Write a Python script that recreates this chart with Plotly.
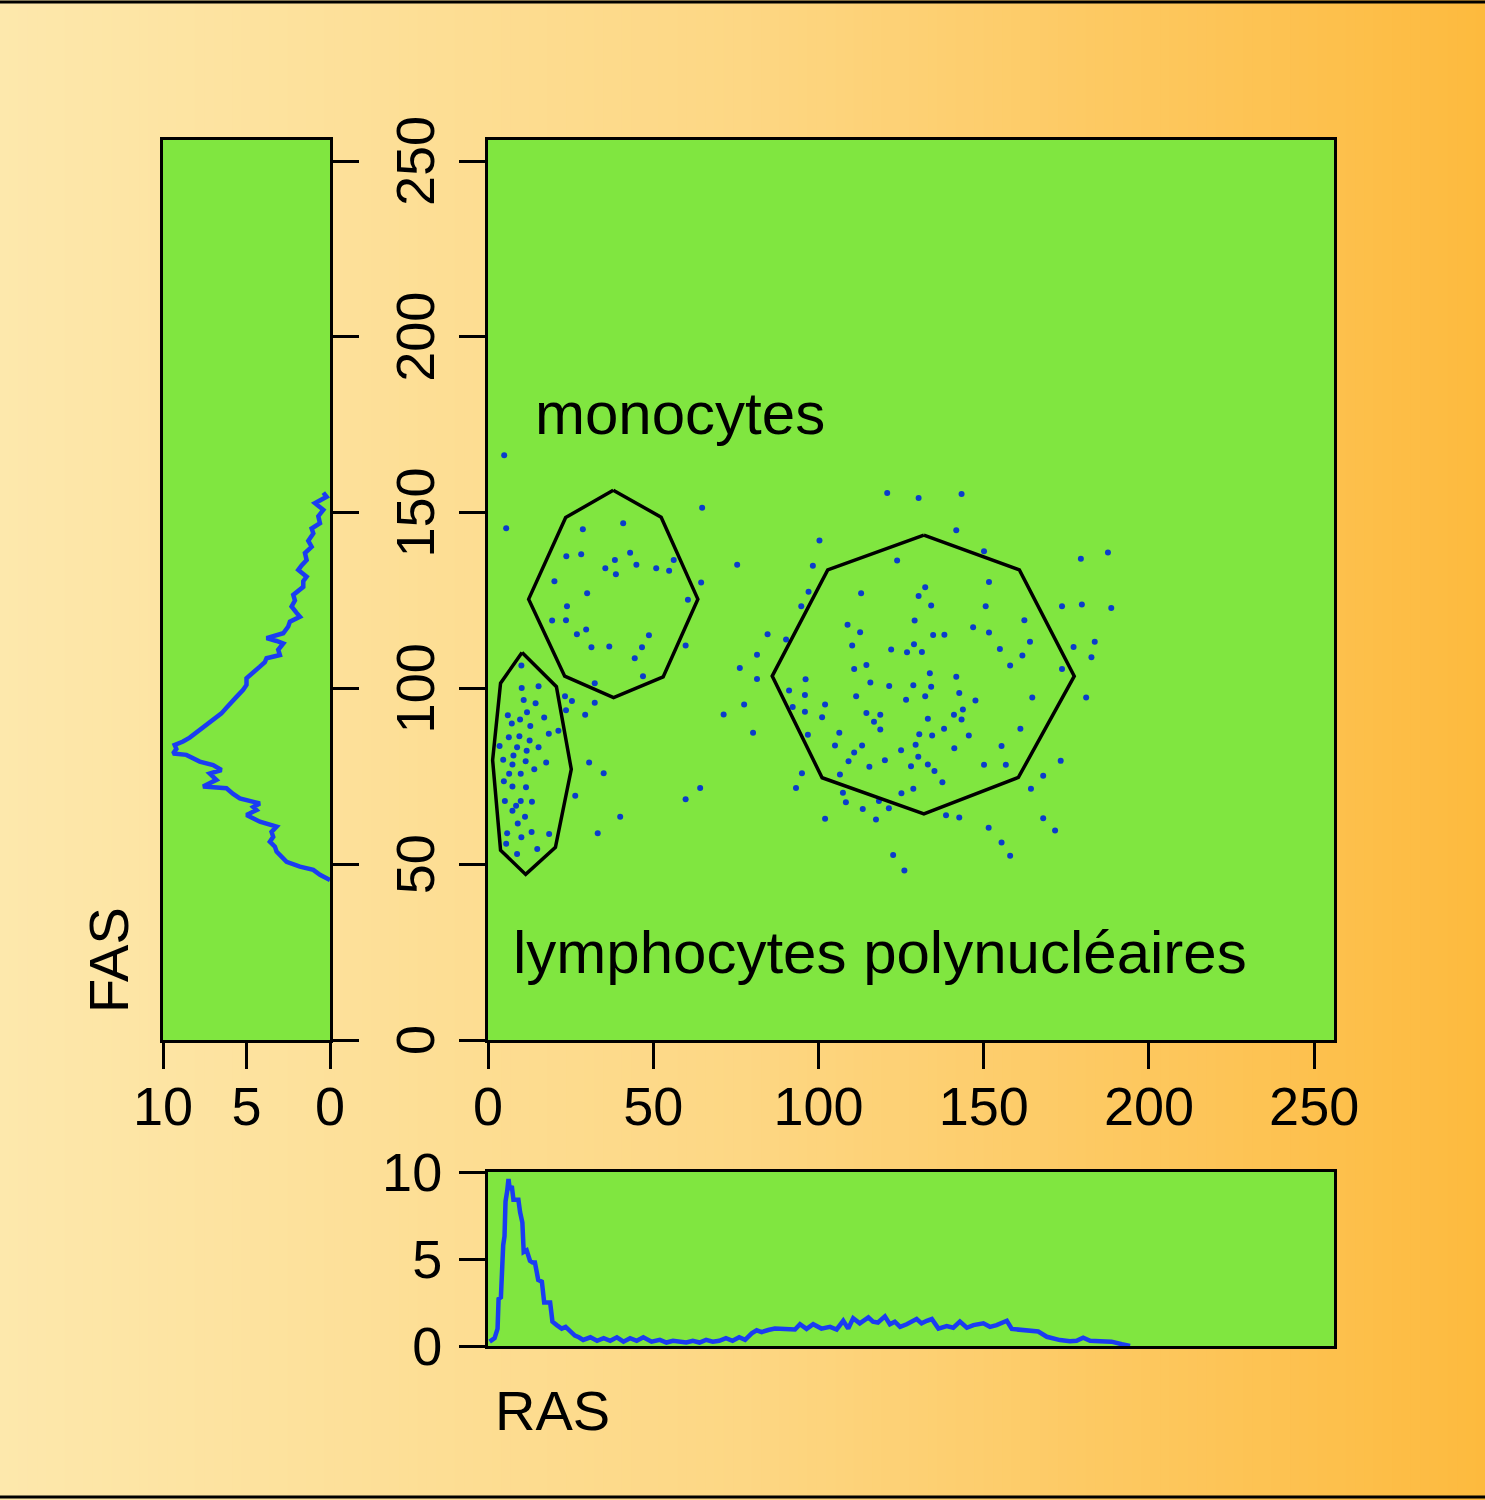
import plotly.graph_objects as go

W, H = 1485, 1500

# ---------------- data ----------------
tick_main = [0, 50, 100, 150, 200, 250]
tick_hist = [0, 5, 10]

scatter_ras = [4.9, 64.8, 5.5, 28.7, 40.9, 23.7, 28.2, 43.0, 38.4, 56.2, 35.5, 44.9, 50.9, 54.8, 38.7, 20.1, 64.5, 30.0, 60.5, 23.9,
               19.4, 23.6, 29.7, 26.9, 48.7, 31.3, 36.7, 46.6, 59.8, 44.4, 46.9, 32.3, 10.1, 10.2, 15.3, 10.8, 14.4, 23.3, 25.4, 32.3,
               23.6, 29.4, 6.0, 11.8, 17.0, 7.2, 9.7, 12.8, 21.3, 18.4, 6.3, 9.5, 12.6, 3.5, 8.8, 15.3, 11.7, 7.7, 4.6, 11.4,
               7.4, 17.6, 30.6, 14.0, 6.4, 9.9, 35.0, 4.8, 7.4, 11.5, 64.2, 26.4, 59.8, 5.1, 9.9, 13.3, 8.5, 7.4, 11.2, 40.0,
               9.0, 5.8, 13.2, 18.5, 33.2, 10.1, 5.5, 14.9, 8.8,
               120.8, 130.3, 100.3, 75.4, 98.3, 123.8, 97.0, 112.9, 130.3, 94.8, 108.8, 129.1, 112.6, 84.6, 90.2, 110.2, 128.9, 122.0,
               126.8, 81.4, 76.2, 110.8, 114.5, 81.4, 96.1, 115.7, 121.4, 128.7, 91.1, 95.9, 111.4, 126.5, 77.5, 102.0, 71.3, 92.2,
               95.9, 101.1, 114.5, 118.7, 116.8, 118.7, 80.2, 106.3, 96.8, 130.5, 105.0, 113.2, 129.4, 110.8, 125.0, 130.2, 109.1,
               120.1, 115.4, 128.0, 95.0, 106.5, 93.2, 128.7, 107.4, 125.1, 108.3, 118.3, 113.4, 121.3, 102.0, 117.4, 122.6, 126.0,
               143.3, 141.7, 150.1, 179.4, 187.6, 132.3, 151.6, 134.1, 150.6, 173.7, 179.7, 188.6, 162.3, 146.8, 134.7, 138.1, 151.6,
               164.0, 183.6, 131.3, 154.9, 161.7, 177.2, 182.6, 158.0, 173.7, 133.7, 141.7, 134.1, 132.3, 142.6, 147.5, 164.7, 181.0,
               143.7, 141.0, 143.3, 133.1, 138.0, 161.1, 134.4, 145.5, 141.1, 155.4, 133.1, 150.1, 156.7, 135.1, 173.3, 137.5, 168.0,
               164.3, 138.6, 142.6, 168.0, 171.6, 151.5, 155.4, 158.0]
scatter_fas = [166.3, 151.4, 145.6, 145.3, 147.0, 137.6, 138.2, 138.6, 136.5, 136.5, 134.2, 135.2, 134.2, 133.5, 132.5, 130.5, 130.1, 127.1, 125.2, 123.4,
               119.3, 119.4, 116.8, 115.4, 115.1, 111.7, 111.9, 111.7, 112.2, 108.6, 103.5, 101.5, 106.5, 100.1, 100.6, 96.7, 95.8, 97.8, 96.4, 95.9,
               93.8, 92.5, 92.4, 93.2, 91.7, 90.0, 91.2, 89.3, 88.0, 87.1, 86.1, 86.4, 85.2, 83.6, 83.3, 83.3, 82.3, 80.9, 79.7, 79.3,
               78.4, 78.9, 78.9, 77.0, 75.7, 75.7, 75.9, 73.6, 72.1, 71.9, 71.7, 69.5, 68.5, 68.0, 68.0, 67.8, 66.6, 65.2, 63.5, 63.5,
               61.6, 58.8, 59.2, 58.6, 58.8, 57.7, 55.8, 54.3, 52.9,
               155.6, 154.2, 142.1, 135.2, 134.9, 136.4, 127.5, 127.1, 126.3, 123.4, 118.1, 119.3, 116.0, 115.4, 113.9, 112.2, 112.6, 111.1,
               110.3, 109.6, 105.8, 105.5, 106.7, 102.7, 102.6, 101.7, 100.7, 100.9, 99.4, 98.1, 97.8, 96.8, 95.4, 95.4, 92.6, 94.7,
               93.4, 91.8, 93.0, 92.5, 90.5, 88.3, 87.4, 87.4, 86.8, 87.0, 83.8, 83.8, 84.0, 81.8, 82.4, 80.6, 79.3,
               79.6, 77.7, 77.9, 75.9, 75.5, 71.7, 71.5, 70.3, 70.2, 67.6, 68.0, 65.7, 65.9, 62.9, 62.7, 52.6, 48.2,
               155.3, 145.0, 139.0, 136.9, 138.7, 128.8, 130.3, 123.6, 123.4, 123.4, 123.9, 122.9, 119.4, 117.4, 115.2, 115.3, 115.9,
               113.3, 113.3, 110.4, 111.2, 109.4, 111.8, 108.9, 106.5, 105.5, 104.3, 103.3, 100.5, 97.8, 98.7, 96.6, 97.4, 97.4,
               94.0, 92.5, 91.2, 91.4, 88.5, 88.5, 86.6, 86.6, 83.0, 83.6, 78.4, 78.3, 78.3, 76.5, 79.4, 73.3, 75.2,
               71.5, 63.9, 63.3, 63.1, 59.6, 60.4, 56.2, 52.4]

# gates (polygons)
lympho_ras = [10.3, 20.7, 25.2, 20.4, 11.4, 3.8, 1.4, 3.8]
lympho_fas = [110.2, 100.5, 77.0, 54.8, 47.1, 54.0, 79.6, 101.5]
mono_ras = [37.9, 52.4, 63.5, 53.0, 38.0, 23.2, 12.3, 23.5]
mono_fas = [156.4, 148.7, 125.4, 103.3, 97.4, 103.5, 125.4, 148.6]
poly_ras = [131.9, 160.8, 177.4, 160.5, 131.9, 101.1, 86.0, 102.8]
poly_fas = [143.6, 133.7, 103.5, 74.7, 64.3, 74.6, 103.5, 133.7]

# FAS histogram (left panel)
fas_bins = [155.7, 154.5, 152.7, 150.8, 149, 147, 145.5, 144.1, 142, 140.3,
            138.5, 136.5, 135, 133.7, 131.8, 130.5, 128.9, 127.5, 126.6, 125,
            123.3, 121.5, 120.4, 119, 117.6, 115.7, 114.3, 113.5, 112.8, 111,
            109.5, 108.6, 107.5, 106.2, 104.5, 102.9, 101, 99.6, 97.6, 95.8,
            94.5, 92.9, 91.0, 89.1, 87.2, 86, 84.9, 83.9, 82.8, 81.5,
            81.1, 80, 79.2, 78.2, 76.8, 75.8, 74.9, 74.0, 72.1, 71.6,
            70, 68.7, 67.3, 66.3, 65.4, 64.0, 62.1, 60.7, 59.2, 57.8,
            56.4, 55, 53.6, 52, 50.7, 49.3, 48.4, 47, 45.5]
fas_counts = [0.4, 0.2, 0.9, 0.4, 0.7, 0.6, 1.1, 1.0, 1.3, 1.1,
              1.5, 1.4, 1.7, 1.9, 1.4, 1.6, 1.6, 2.0, 2.2, 2.1,
              2.3, 2.0, 1.8, 2.4, 2.5, 2.8, 3.8, 3.2, 2.8, 3.1,
              3.0, 3.8, 3.9, 4.2, 4.6, 5.0, 5.0, 5.2, 5.6, 6.0,
              6.2, 6.5, 7.0, 7.6, 8.0, 8.4, 8.8, 9.3, 9.2, 9.4,
              8.6, 8.2, 7.8, 7.0, 6.5, 7.2, 7.0, 6.8, 7.6, 6.2,
              5.8, 5.4, 4.2, 4.6, 4.4, 5.0, 4.2, 3.2, 3.5, 3.4,
              3.6, 3.3, 3.2, 2.9, 2.6, 1.8, 1.0, 0.6, 0.0]

# RAS histogram (bottom panel)
ras_bins = [0.5, 2.0, 2.9, 3.2, 3.9, 4.2, 4.6, 5.0, 5.3, 5.8,
            6.2, 6.6, 7.2, 7.7, 8.5, 9.2, 9.7, 10.4, 10.8, 11.7,
            12.7, 13.5, 14.2, 15.2, 16.3, 17.0, 18.8, 19.5, 20.8, 22.3,
            23.5, 25.3, 26.3, 27.5, 28.8,
            31, 33, 35, 37, 39, 41, 43, 45, 47, 49.5, 52, 54, 56, 58, 60, 62, 64, 66, 68, 70, 72, 74, 76, 77.8,
            79.8, 81.3, 82.8, 84.8, 86.8, 89.9, 92.9, 94.4, 96.4, 98.4,
            100.9, 103.5, 105.5, 107.5, 109, 110.5, 112.5, 115.1, 116.5, 118,
            120.1, 121.6, 123.1, 124.7, 126.7, 129.7, 131.2, 132.8, 134.3, 136.3,
            138.8, 140.8, 142.8, 144.9, 146.9, 149.9, 151.9, 153.9, 157, 158.5,
            161, 164, 166.5, 169.1, 171.1, 173.1, 176.1, 178.1, 180.1, 182.2,
            185.2, 188.7, 191.8, 194.3]
ras_counts = [0.25, 0.45, 1.0, 2.7, 2.8, 4.7, 5.8, 6.3, 8.3, 8.9,
              9.6, 9.0, 9.2, 8.4, 8.4, 8.4, 7.7, 7.1, 5.4, 5.5,
              4.9, 4.8, 4.8, 3.8, 3.7, 2.5, 2.5, 1.4, 1.2, 1.0,
              1.1, 0.8, 0.6, 0.5, 0.35,
              0.5, 0.3, 0.45, 0.3, 0.5, 0.25, 0.45, 0.3, 0.5, 0.25, 0.35, 0.2, 0.3, 0.25, 0.2, 0.3, 0.2, 0.35, 0.25, 0.3, 0.45, 0.3, 0.5, 0.35,
              0.73, 0.9, 0.8, 0.92, 1.0, 0.98, 0.95, 1.25, 0.98, 1.25,
              1.0, 1.1, 0.95, 1.45, 1.0, 1.6, 1.3, 1.65, 1.4, 1.35,
              1.7, 1.25, 1.4, 1.1, 1.25, 1.55, 1.3, 1.45, 1.55, 1.0,
              1.15, 1.05, 1.4, 1.05, 1.2, 1.3, 1.1, 1.2, 1.45, 0.98,
              0.92, 0.83, 0.83, 0.53, 0.44, 0.34, 0.28, 0.3, 0.48, 0.3,
              0.28, 0.25, 0.1, 0.0]

# ---------------- styling ----------------
FONT = "Liberation Sans, Arial, Helvetica, sans-serif"
GREEN = "#80E640"
LINE_BLUE = "#1a3cf2"
DOT_BLUE = "#0a3ccc"
TICK_SIZE = 54


def px_x(p):
    return p / W


def px_y(p):
    return 1 - p / H


main_xd = [px_x(488), px_x(1334)]
main_yd = [px_y(1040), px_y(140)]
left_xd = [px_x(163), px_x(330)]
bot_yd = [px_y(1346), px_y(1172)]

fig = go.Figure()

# scatter
fig.add_trace(go.Scatter(x=scatter_ras, y=scatter_fas, mode="markers",
                         marker=dict(size=6, color=DOT_BLUE), xaxis="x", yaxis="y", showlegend=False))
for gx, gy in [(lympho_ras, lympho_fas), (mono_ras, mono_fas), (poly_ras, poly_fas)]:
    fig.add_trace(go.Scatter(x=gx + gx[:1], y=gy + gy[:1], mode="lines",
                             line=dict(color="black", width=3.5), xaxis="x", yaxis="y", showlegend=False))

# left histogram
fig.add_trace(go.Scatter(x=fas_counts, y=fas_bins, mode="lines",
                         line=dict(color=LINE_BLUE, width=4.5), xaxis="x2", yaxis="y2", showlegend=False))
# bottom histogram
fig.add_trace(go.Scatter(x=ras_bins, y=ras_counts, mode="lines",
                         line=dict(color=LINE_BLUE, width=4.5), xaxis="x3", yaxis="y3", showlegend=False))

axis_common = dict(showline=True, mirror=True, linecolor="black", linewidth=3, showgrid=False,
                   zeroline=False, ticks="outside", ticklen=26, tickwidth=3, tickcolor="black",
                   automargin=False,
                   tickfont=dict(family=FONT, size=TICK_SIZE, color="black"))

fig.update_layout(
    template="none",
    width=W, height=H, margin=dict(l=0, r=0, t=0, b=0, pad=0, autoexpand=False),
    paper_bgcolor="#FDE6AA", plot_bgcolor="rgba(0,0,0,0)", showlegend=False,
    xaxis=dict(domain=main_xd, range=[0, 256], tickvals=tick_main, anchor="y", ticklabelstandoff=-9,
               **axis_common),
    yaxis=dict(domain=main_yd, range=[0, 256], tickvals=tick_main, tickangle=-90, anchor="x",
               ticklabelstandoff=3, ticklabelshift=8, **axis_common),
    xaxis2=dict(domain=left_xd, range=[10, 0], tickvals=tick_hist, anchor="y2", ticklabelstandoff=-9,
                **axis_common),
    yaxis2=dict(domain=main_yd, range=[0, 256], tickvals=tick_main, anchor="x2", side="right",
                showticklabels=False, **axis_common),
    xaxis3=dict(domain=main_xd, range=[0, 256], anchor="y3", showline=True, mirror=True, linecolor="black",
                linewidth=3, showgrid=False, zeroline=False, ticks="", showticklabels=False, automargin=False),
    yaxis3=dict(domain=bot_yd, range=[0, 10], tickvals=tick_hist, anchor="x3", ticklabelstandoff=6,
                **axis_common),
)

# gradient background stripes
shapes = []
stops = [(0.0, (253, 232, 172)), (0.5, (253, 215, 132)), (1.0, (253, 186, 62))]


def grad(t):
    for (t0, c0), (t1, c1) in zip(stops[:-1], stops[1:]):
        if t <= t1:
            f = (t - t0) / (t1 - t0)
            return tuple(round(a + (b - a) * f) for a, b in zip(c0, c1))
    return stops[-1][1]


N = 160
for i in range(N):
    c = grad((i + 0.5) / N)
    shapes.append(dict(type="rect", xref="paper", yref="paper", x0=i / N, x1=min(1, (i + 1) / N + 0.002),
                       y0=0, y1=1, fillcolor="rgb(%d,%d,%d)" % c, line=dict(width=0), layer="below"))
for xd, yd in [(main_xd, main_yd), (left_xd, main_yd), (main_xd, bot_yd)]:
    shapes.append(dict(type="rect", xref="paper", yref="paper", x0=xd[0], x1=xd[1], y0=yd[0], y1=yd[1],
                       fillcolor=GREEN, line=dict(width=0), layer="below"))
# top / bottom border lines
for yy in [px_y(2), px_y(1497)]:
    shapes.append(dict(type="line", xref="paper", yref="paper", x0=0, x1=1, y0=yy, y1=yy,
                       line=dict(color="black", width=3), layer="above"))
fig.update_layout(shapes=shapes)

ann_font = dict(family=FONT, size=60, color="black")
fig.update_layout(annotations=[
    dict(text="monocytes", x=13.6, y=178.3, xref="x", yref="y", xanchor="left", yanchor="middle",
         showarrow=False, font=ann_font),
    dict(text="lymphocytes polynucléaires", x=7.0, y=25.0, xref="x", yref="y", xanchor="left",
         yanchor="middle", showarrow=False, font=ann_font),
    dict(text="FAS", x=px_x(108), y=px_y(960), xref="paper", yref="paper", textangle=-90,
         xanchor="center", yanchor="middle",
         showarrow=False, font=dict(family=FONT, size=56, color="black")),
    dict(text="RAS", x=px_x(552), y=px_y(1410), xref="paper", yref="paper",
         xanchor="center", yanchor="middle",
         showarrow=False, font=dict(family=FONT, size=56, color="black")),
])

fig.write_html("out.html")
